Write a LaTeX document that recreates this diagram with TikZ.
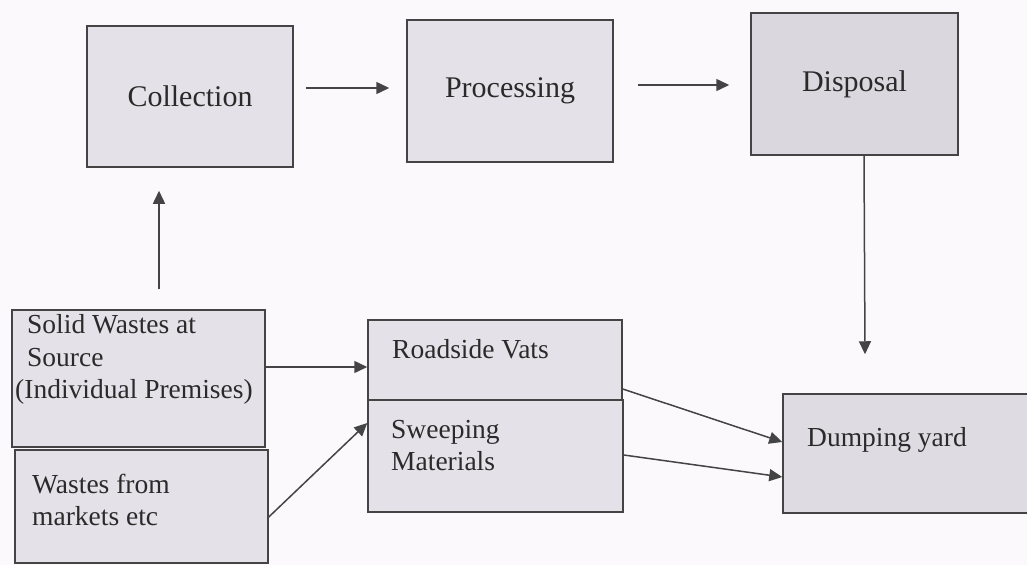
\documentclass[tikz,border=0pt]{standalone}
\usepackage{fontspec}
\setmainfont{Liberation Serif}
\usetikzlibrary{arrows.meta}
\definecolor{bgc}{HTML}{FBF9FC}
\definecolor{boxfill}{HTML}{E4E2E8}
\definecolor{boxdark}{HTML}{DAD8DE}
\definecolor{linec}{HTML}{444444}
\definecolor{textc}{HTML}{2A2A2A}
\tikzset{
  box/.style={draw=linec, fill=boxfill, line width=1.5pt, rectangle, inner sep=0pt, text=textc, font=\fontsize{30}{36}\selectfont},
  lbl/.style={anchor=base west, inner sep=0pt, text=textc, font=\fontsize{27.5}{33}\selectfont},
  arr/.style={draw=linec, line width=1.5pt, -{Triangle[length=13pt,width=12pt]}}
}
\begin{document}
\begin{tikzpicture}[x=1pt,y=-1pt]
\path[use as bounding box, fill=bgc] (0,0) rectangle (1027,565);
\clip (0,0) rectangle (1027,565);
% top row
\node[box, minimum width=206pt, minimum height=141pt] (coll) at (190,96.5) {Collection};
\node[box, minimum width=206pt, minimum height=142pt] (proc) at (510,91) {Processing};
\node[box, fill=boxdark, minimum width=207pt, minimum height=142pt] (disp) at (854.5,84) {Disposal};
% lower boxes
\node[box, minimum width=253pt, minimum height=137pt] (solid) at (138.5,378.5) {};
\node[box, minimum width=253pt, minimum height=113pt] (mkt) at (141.5,506.5) {};
\node[box, minimum width=254pt, minimum height=80pt] (road) at (495,360) {};
\node[box, minimum width=255pt, minimum height=112pt] (sweep) at (495.5,456) {};
\node[box, fill=boxdark!60!boxfill, minimum width=257pt, minimum height=119pt] (dump) at (911.5,453.5) {};
% texts
\node[lbl] (s1) at (27,333) {Solid Wastes at};
\node[lbl] (s2) at (27,366) {Source};
\node[lbl] (s3) at (15,398) {(Individual Premises)};
\node[lbl] (m1) at (32,493) {Wastes from};
\node[lbl] (m2) at (32,525) {markets etc};
\node[lbl] (r1) at (392,358) {Roadside Vats};
\node[lbl] (w1) at (391,438) {Sweeping};
\node[lbl] (w2) at (391,470) {Materials};
\node[lbl] (d1) at (807,446) {Dumping yard};
% connectors
\draw[arr] ([xshift=12pt,yshift=8.5pt]coll.east) -- ([xshift=-17pt,yshift=8.5pt]proc.west |- coll.east);
\draw[arr] ([xshift=24pt,yshift=6pt]proc.east) -- ([xshift=-21pt,yshift=-1pt]disp.west);
\draw[arr] ([xshift=20.5pt,yshift=20pt]solid.north) -- ([xshift=-31pt,yshift=-23pt]coll.south);
\draw[arr] ([xshift=9.5pt]disp.south) -- ([xshift=-46.5pt,yshift=39pt]dump.north);
\draw[arr] ([yshift=11.5pt]solid.east) -- ([yshift=-7pt]road.west);
\draw[arr] ([yshift=-10.5pt]mkt.east) -- ([yshift=33pt]sweep.west);
\draw[arr] ([yshift=-29pt]road.east) -- ([yshift=11.5pt]dump.west);
\draw[arr] ([yshift=1pt]sweep.east) -- ([yshift=-23.5pt]dump.west);
\end{tikzpicture}
\end{document}
